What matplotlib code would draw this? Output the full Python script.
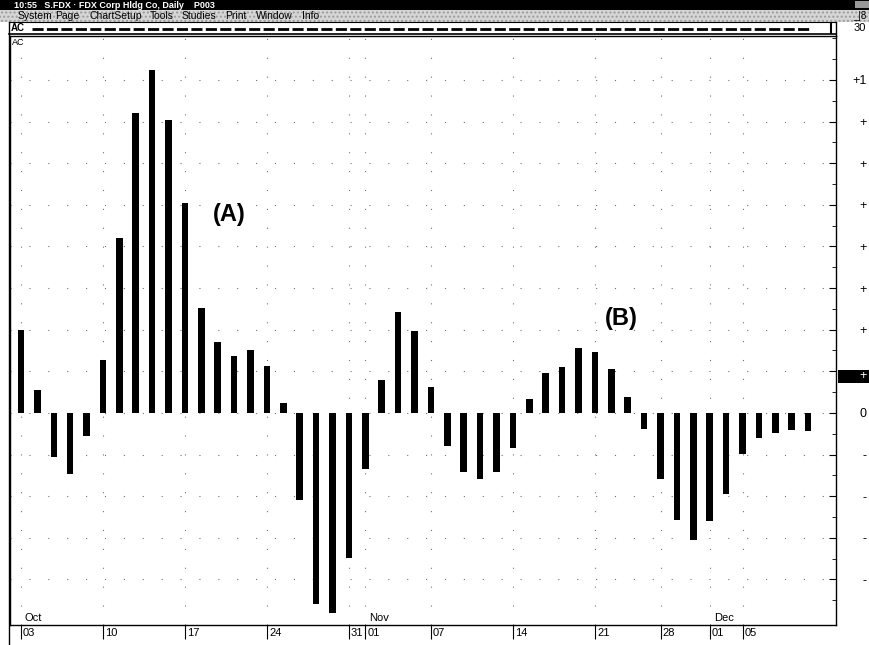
import numpy as np
import matplotlib.pyplot as plt
from matplotlib.patches import Rectangle
from matplotlib.transforms import ScaledTranslation, blended_transform_factory

plt.rcParams['font.family'] = ['Liberation Sans', 'DejaVu Sans']

# daily AC values, Oct 3 - Dec 9 (trading days only)
ac = [0.249, 0.069, -0.132, -0.183, -0.069,
      0.159, 0.526, 0.901, 1.030, 0.880,
      0.631, 0.315, 0.213, 0.171, 0.189,
      0.141, 0.030, -0.261, -0.574, -0.601,
      -0.435, -0.168, 0.099, 0.303, 0.246,
      0.078, -0.099, -0.177, -0.198, -0.177,
      -0.105, 0.042, 0.120, 0.138, 0.195,
      0.183, 0.132, 0.048, -0.048,
      -0.198, -0.321, -0.381, -0.324, -0.243,
      -0.123, -0.075, -0.060, -0.051, -0.054]
day_pos = np.arange(len(ac))

date_ticks = [0, 5, 10, 15, 20, 21, 25, 30, 35, 39, 42, 44]
date_labels = ["03", "10", "17", "24", "31", "01", "07", "14", "21", "28", "01", "05"]
month_pos = [0, 21, 42]
month_names = ["Oct", "Nov", "Dec"]

y_ticks = np.arange(-0.5, 1.001, 0.125)
y_labels = ["+1" if abs(t - 1) < 1e-9 else "0" if abs(t) < 1e-9 else "+" if t > 0 else "-"
            for t in y_ticks]
marker_value = 0.125

menu_items = ["System", "Page", "ChartSetup", "Tools", "Studies", "Print", "Window", "Info"]
menu_x = [18, 55, 90, 150, 182, 225, 256, 302]

fig = plt.figure(figsize=(8.7, 6.45), dpi=100)
fig.patch.set_facecolor("white")

# main chart
ax = fig.add_axes([10 / 870, 20 / 645, 826 / 870, 589 / 645])
ax.bar(day_pos, ac, width=0.4, color="black", zorder=3)
ax.set_xlim(-0.67, 49.7)
ax.set_ylim(-0.637, 1.132)

ax.set_xticks(date_ticks)
ax.set_xticklabels(date_labels)
ax.set_yticks(y_ticks)
ax.set_yticklabels(["" if abs(t - marker_value) < 1e-9 else l for t, l in zip(y_ticks, y_labels)])
ax.set_yticks(np.arange(-0.5625, 1.13, 0.0625), minor=True)
ax.yaxis.tick_right()

ax.grid(True, which="major", color="0.45", linestyle=(0, (1, 16)), linewidth=0.8)
ax.set_axisbelow(True)

ax.tick_params(axis="x", direction="out", length=10, width=0.8, pad=-8,
               labelsize=8, colors="black")
ax.tick_params(axis="y", which="major", direction="in", length=5, width=0.8,
               pad=2, labelsize=9)
ax.tick_params(axis="y", which="minor", direction="in", length=3, width=0.6)
ax.tick_params(left=False, which="both")

for lab in ax.get_xticklabels():
    lab.set_ha("left")
    lab.set_transform(lab.get_transform() + ScaledTranslation(0.02, 0, fig.dpi_scale_trans))
for lab in ax.get_yticklabels():
    lab.set_ha("right")
    lab.set_transform(lab.get_transform() + ScaledTranslation(0.28, 0, fig.dpi_scale_trans))

for s in ["left", "right", "bottom", "top"]:
    ax.spines[s].set_linewidth(1.0)

# highlighted current value box on the right scale
bt = blended_transform_factory(ax.transAxes, ax.transData)
ax.add_patch(Rectangle((1.002, marker_value - 0.035), 0.045, 0.04, transform=bt,
                       facecolor="black", edgecolor="none", clip_on=False, zorder=1))
ax.text(1.0375, marker_value - 0.015, "+", transform=bt, color="white", fontsize=9,
        ha="right", va="center", clip_on=False, zorder=6)

mt = blended_transform_factory(ax.transData, ax.transAxes)
for p, m in zip(month_pos, month_names):
    ax.text(p, 0.004, m, transform=mt + ScaledTranslation(0.04, 0, fig.dpi_scale_trans),
            ha="left", va="bottom", fontsize=8)

ax.text(0.002, 0.997, "AC", transform=ax.transAxes, ha="left", va="top", fontsize=6.5)
ax.text(12.7, 0.595, "(A)", ha="center", va="center", fontsize=17, fontweight="bold")
ax.text(36.6, 0.285, "(B)", ha="center", va="center", fontsize=17, fontweight="bold")

# window chrome (pixel coordinates)
top = fig.add_axes([0, 0, 1, 1], zorder=5)
top.set_xlim(0, 870)
top.set_ylim(645, 0)
top.axis("off")
top.patch.set_alpha(0)

top.add_patch(Rectangle((0, 0), 870, 10, facecolor="black", edgecolor="none"))
top.text(14, 5.2, "10:55   S.FDX · FDX Corp Hldg Co, Daily    P003", color="white",
         fontsize=6.5, fontweight="bold", ha="left", va="center")
top.add_patch(Rectangle((855, 1), 14, 7, facecolor="0.6", edgecolor="none"))

top.add_patch(Rectangle((0, 10), 870, 12, facecolor="#d6d6d6", edgecolor="#9c9c9c",
                        hatch="....", linewidth=0))
for xm, name in zip(menu_x, menu_items):
    top.text(xm, 16.3, name, fontsize=7.5, ha="left", va="center")
top.text(866, 16.3, "_|8", fontsize=7, ha="right", va="center")

top.plot([9, 836], [22, 22], color="black", lw=0.8)
top.plot([9, 9], [22, 645], color="black", lw=1.0)
top.plot([836, 836], [22, 36], color="black", lw=1.0)
top.plot([9, 836], [33.5, 33.5], color="black", lw=1.2)
top.text(11, 28, "AC", fontsize=7, fontweight="bold", ha="left", va="center")
top.plot([32, 812], [28.5, 28.5], color="black", lw=2, linestyle=(0, (4, 1.2)))
top.plot([831, 831], [23, 33], color="black", lw=1.5)
top.text(866, 28, "30", fontsize=8, ha="right", va="center")

fig.savefig("out.png", dpi=100)
